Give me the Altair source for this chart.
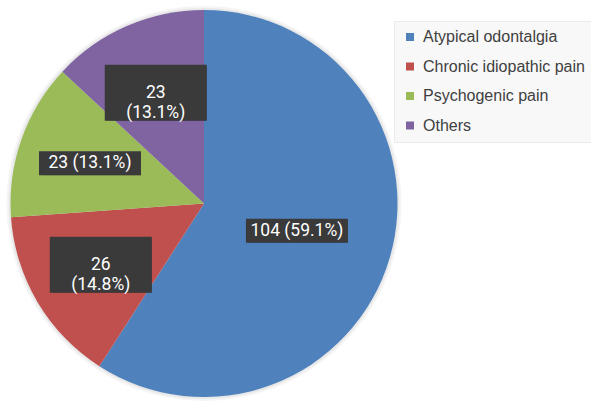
import altair as alt
import pandas as pd

categories = ["Atypical odontalgia", "Chronic idiopathic pain", "Psychogenic pain", "Others"]
counts = [104, 26, 23, 23]
label_text = ["104 (59.1%)", "26\n(14.8%)", "23 (13.1%)", "23\n(13.1%)"]
colors = ["#4F81BD", "#C0504D", "#9BBB59", "#8064A2"]

CX, CY, R = 204, 203.5, 193.5

df = pd.DataFrame({
    "category": categories,
    "count": counts,
    "label": label_text,
    "order": list(range(len(categories))),
})
df["lines"] = df["label"].str.count("\n") + 1

base = alt.Chart(df)

halo1 = base.mark_arc(outerRadius=R + 4, color="#000000", opacity=0.04).encode(
    theta=alt.Theta("count:Q", stack=True),
    order=alt.Order("order:Q"),
    x=alt.value(CX), y=alt.value(CY),
)
halo2 = base.mark_arc(outerRadius=R + 2, color="#000000", opacity=0.05).encode(
    theta=alt.Theta("count:Q", stack=True),
    order=alt.Order("order:Q"),
    x=alt.value(CX), y=alt.value(CY),
)

pie = base.mark_arc(outerRadius=R).encode(
    theta=alt.Theta("count:Q", stack=True),
    order=alt.Order("order:Q"),
    color=alt.Color(
        "category:N",
        scale=alt.Scale(domain=categories, range=colors),
        sort=categories,
        legend=alt.Legend(
            title=None, orient="none", legendX=394, legendY=21,
            direction="vertical", symbolType="square", symbolSize=64,
            labelFont="Liberation Sans", labelFontSize=16, labelColor="#404040",
            rowPadding=13.5, padding=8, fillColor="#f8f8f8", strokeColor="#ececec",
            labelOffset=5, symbolStrokeWidth=0, labelLimit=300,
        ),
    ),
    x=alt.value(CX),
    y=alt.value(CY),
)

lab = base.transform_joinaggregate(total="sum(count)").transform_window(
    cum="sum(count)", sort=[alt.SortField("order")], frame=[None, 0]
).transform_calculate(
    mid="(datum.cum - datum.count / 2) / datum.total * 2 * PI",
    r=f"{R} * (0.66 - 0.27 * datum.count / datum.total)",
    lx=f"{CX} + datum.r * sin(datum.mid)",
    ly=f"{CY} - datum.r * cos(datum.mid)",
    hh="datum.lines == 1 ? 12 : 28",
    bx1="datum.lx - 51",
    bx2="datum.lx + 51",
    by1="datum.ly - datum.hh",
    by2="datum.ly + datum.hh",
)

shadow = lab.mark_rect(color="#000000", opacity=0.3, xOffset=3, yOffset=3).encode(
    x=alt.X("bx1:Q", scale=None), x2="bx2:Q",
    y=alt.Y("by1:Q", scale=None), y2="by2:Q",
)
box = lab.mark_rect(color="#3a3a3a").encode(
    x=alt.X("bx1:Q", scale=None), x2="bx2:Q",
    y=alt.Y("by1:Q", scale=None), y2="by2:Q",
)
txt = lab.mark_text(
    color="white", font="Roboto", fontSize=17.5, lineBreak="\n", lineHeight=20,
    align="center", baseline="middle",
).encode(
    x=alt.X("lx:Q", scale=None),
    y=alt.Y("ly:Q", scale=None),
    text="label:N",
)

chart = alt.layer(halo1, halo2, pie, shadow, box, txt).properties(
    width=591, height=403,
    autosize=alt.AutoSizeParams(type="none"),
    padding=0,
).configure_view(stroke=None)

chart.save("out.html", embed_options={"renderer": "svg", "actions": False})
